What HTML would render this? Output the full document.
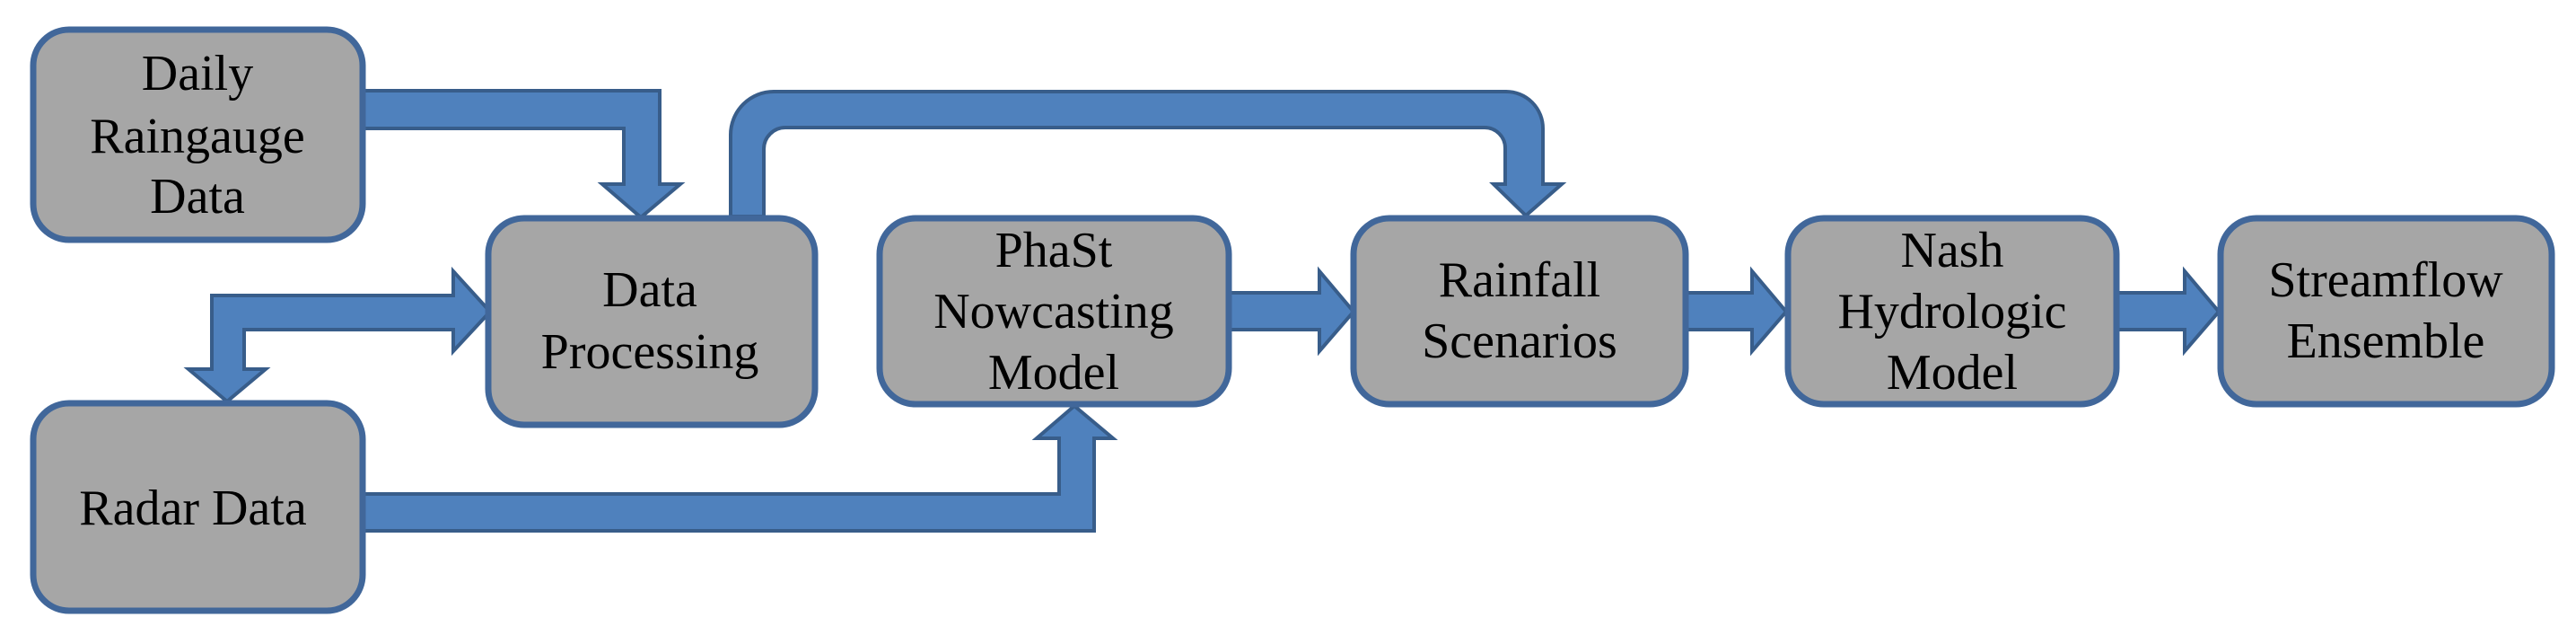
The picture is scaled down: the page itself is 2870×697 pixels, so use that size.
<!DOCTYPE html>
<html><head><meta charset="utf-8"><style>
html,body{margin:0;padding:0;background:#fff;}
svg{display:block;}
svg text{font-family:"Liberation Serif","Times New Roman","DejaVu Serif",serif;font-size:56px;fill:#000;text-anchor:middle;}
</style></head><body>
<svg width="2870" height="697" viewBox="0 0 2870 697" xmlns="http://www.w3.org/2000/svg">
<g fill="#4f81bd" stroke="#385d8a" stroke-width="4" stroke-linejoin="miter">
<path d="M404,101 L735,101 L735,205 L758,205 L714,242 L671,205 L695,205 L695,143 L404,143 Z"/>
<path d="M814,241 L814,150 A48,48 0 0 1 862,102 L1678,102 A41,41 0 0 1 1719,143 L1719,205 L1740,205 L1700,240 L1664,205 L1677,205 L1677,165 A23,23 0 0 0 1654,142 L875,142 A24,24 0 0 0 851,166 L851,241 Z"/>
<path d="M296,411 L253,447 L210,411 L236,411 L236,329 L505,329 L505,302 L546,347 L505,391 L505,367 L272,367 L272,411 Z"/>
<path d="M404,550 L1180,550 L1180,488 L1155,488 L1197,452 L1240,488 L1219,488 L1219,591 L404,591 Z"/>
<path d="M1370,326 L1470,326 L1470,302 L1508,347 L1470,391 L1470,367 L1370,367 Z"/>
<path d="M1879,326 L1952,326 L1952,302 L1990,347 L1952,391 L1952,367 L1879,367 Z"/>
<path d="M2359,326 L2434,326 L2434,302 L2472,347 L2434,391 L2434,367 L2359,367 Z"/>
</g>
<g fill="#a6a6a6" stroke="#41679a" stroke-width="7">
<rect x="37" y="33" width="367" height="234" rx="40"/>
<rect x="37" y="449" width="367" height="231" rx="40"/>
<rect x="544" y="243" width="364" height="230" rx="40"/>
<rect x="980" y="243" width="389" height="207" rx="40"/>
<rect x="1508" y="243" width="370" height="207" rx="40"/>
<rect x="1992" y="243" width="366" height="207" rx="40"/>
<rect x="2474" y="243" width="369" height="207" rx="40"/>
</g>
<g font-family="Liberation Serif, Times New Roman, DejaVu Serif, serif" font-size="56">
<text x="220" y="100">Daily</text>
<text x="220" y="170">Raingauge</text>
<text x="220" y="237">Data</text>
<text x="215" y="584">Radar Data</text>
<text x="724" y="341">Data</text>
<text x="724" y="410">Processing</text>
<text x="1174" y="297">PhaSt</text>
<text x="1174" y="365">Nowcasting</text>
<text x="1174" y="433">Model</text>
<text x="1693" y="330">Rainfall</text>
<text x="1693" y="398">Scenarios</text>
<text x="2175" y="297">Nash</text>
<text x="2175" y="365">Hydrologic</text>
<text x="2175" y="433">Model</text>
<text x="2658" y="330">Streamflow</text>
<text x="2658" y="398">Ensemble</text>
</g>
</svg>
</body></html>
